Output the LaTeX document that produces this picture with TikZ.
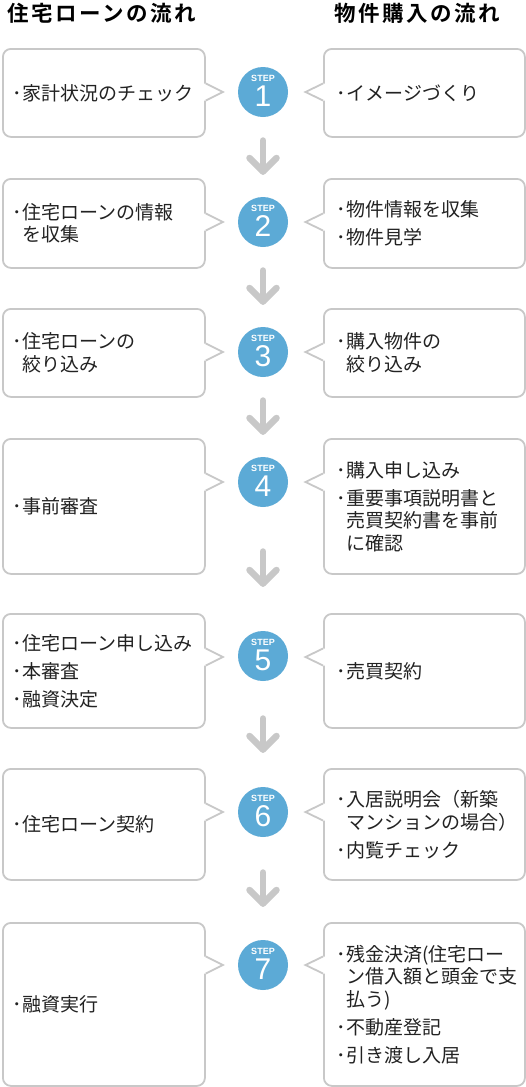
\documentclass[tikz,border=0pt]{standalone}
\usepackage{fontspec}
\usetikzlibrary{calc}
\newfontfamily\jpfont{Noto Sans CJK JP}
\newfontfamily\hdfont[LetterSpace=12]{Noto Sans CJK JP Bold}
\newfontfamily\numfont{Liberation Sans}
\definecolor{bgray}{RGB}{200,200,200}
\definecolor{agray}{RGB}{200,200,200}
\definecolor{stepblue}{RGB}{92,170,214}
\definecolor{txt}{RGB}{34,34,34}
\newcommand\ind{\phantom{･}}
\newcommand\bodyfont{\jpfont\fontsize{19}{22.5}\selectfont}
\begin{document}
\begin{tikzpicture}[x=1pt,y=-1pt,
  hd/.style={anchor=west, inner sep=0pt, font=\hdfont\fontsize{21.5}{24}\selectfont, text=black},
  boxbase/.style={draw=bgray, line width=1.8pt, rounded corners=8pt, fill=white, anchor=north west,
     inner ysep=0pt, align=left, font=\bodyfont, text=txt},
  lbox/.style={boxbase, text width=182pt, inner xsep=10pt},
  rbox/.style={boxbase, text width=175pt, inner xsep=13pt},
  stepc/.style={circle, fill=stepblue, minimum size=50pt, inner sep=0pt},
  steplbl/.style={inner sep=0pt, text=white, font=\numfont\bfseries\fontsize{9}{9}\selectfont},
  stepnum/.style={inner sep=0pt, text=white, font=\numfont\fontsize{30}{30}\selectfont},
  ptr/.style={draw=bgray, line width=1.8pt},
  arr/.style={draw=agray, line width=6.5pt, line cap=round, line join=round}
]
\fill[white] (0,0) rectangle (526,1087);
\useasboundingbox (0,0) rectangle (526,1087);

% headers
\node[hd] (H1) at (7,13.5) {住宅ローンの流れ};
\node[hd] (H2) at (334,13.5) {物件購入の流れ};

% left boxes
\node[lbox, minimum height=88pt] (L1) at (2,48) {･家計状況のチェック};
\node[lbox, minimum height=89pt] (L2) at (2,178) {･住宅ローンの情報\\\ind を収集};
\node[lbox, minimum height=88pt] (L3) at (2,308) {･住宅ローンの\\\ind 絞り込み};
\node[lbox, minimum height=135pt] (L4) at (2,438) {･事前審査};
\node[lbox, minimum height=114pt] (L5) at (2,613) {･住宅ローン申し込み\\[5.5pt]･本審査\\[5.5pt]･融資決定};
\node[lbox, minimum height=111pt] (L6) at (2,768) {･住宅ローン契約};
\node[lbox, minimum height=163pt] (L7) at (2,922) {･融資実行};

% right boxes
\node[rbox, minimum height=88pt] (R1) at (323,48) {･イメージづくり};
\node[rbox, minimum height=89pt] (R2) at (323,178) {･物件情報を収集\\[5.5pt]･物件見学};
\node[rbox, minimum height=88pt] (R3) at (323,308) {･購入物件の\\\ind 絞り込み};
\node[rbox, minimum height=135pt] (R4) at (323,438) {･購入申し込み\\[5.5pt]･重要事項説明書と\\\ind 売買契約書を事前\\\ind に確認};
\node[rbox, minimum height=114pt] (R5) at (323,613) {･売買契約};
\node[rbox, minimum height=111pt] (R6) at (323,768) {･入居説明会（新築\\\ind マンションの場合）\\[5.5pt]･内覧チェック};
\node[rbox, minimum height=163pt] (R7) at (323,922) {･残金決済(住宅ロー\\\ind ン借入額と頭金で支\\\ind 払う)\\[5.5pt]･不動産登記\\[5.5pt]･引き渡し入居};

% pointers
\foreach \n/\o in {1/44,2/44,3/44,4/44,5/44,6/44,7/43}{
  \path (L\n.north east) ++(0,\o) coordinate (pl\n);
  \path (R\n.north west) ++(0,\o) coordinate (pr\n);
  \fill[white] ($(pl\n)+(-2.5,-8.5)$) -- ($(pl\n)+(0,-8.5)$) -- ($(pl\n)+(17,0)$) -- ($(pl\n)+(0,8.5)$) -- ($(pl\n)+(-2.5,8.5)$) -- cycle;
  \draw[ptr] ($(pl\n)+(0,-8.5)$) -- ($(pl\n)+(17,0)$) -- ($(pl\n)+(0,8.5)$);
  \fill[white] ($(pr\n)+(2.5,-8.5)$) -- ($(pr\n)+(0,-8.5)$) -- ($(pr\n)+(-17.5,0)$) -- ($(pr\n)+(0,8.5)$) -- ($(pr\n)+(2.5,8.5)$) -- cycle;
  \draw[ptr] ($(pr\n)+(0,-8.5)$) -- ($(pr\n)+(-17.5,0)$) -- ($(pr\n)+(0,8.5)$);
}

% step circles
\foreach \n/\y in {1/92,2/222,3/352,4/482,5/656,6/812,7/965}{
  \node[stepc] (S\n) at (263,\y) {};
  \node[steplbl] (SL\n) at ($(S\n)+(0,-13.5)$) {STEP};
  \node[stepnum] (SN\n) at ($(S\n)+(0,4.5)$) {\n};
}

% arrows
\foreach \n/\a/\b in {1/140.5/171.5,2/270.5/301.5,3/400.5/431.5,4/551.5/583.5,5/718.5/749.5,6/872.5/903.5}{
  \coordinate (A\n s) at (263,\a);
  \coordinate (A\n e) at (263,\b);
  \draw[arr] (A\n s) -- (A\n e);
  \draw[arr] ($(A\n e)+(-13.5,-13.5)$) -- (A\n e) -- ($(A\n e)+(13.5,-13.5)$);
}
\end{tikzpicture}
\end{document}
